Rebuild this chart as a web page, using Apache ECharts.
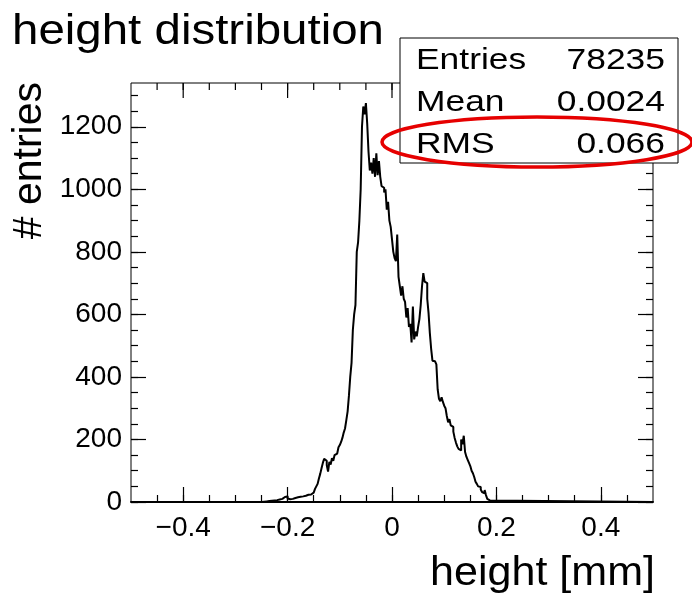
<!DOCTYPE html>
<html>
<head>
<meta charset="utf-8">
<script src="https://cdn.jsdelivr.net/npm/echarts@6/dist/echarts.min.js"></script>
<style>
html,body{margin:0;padding:0;background:#fff;}
#chart{width:692px;height:596px;}
</style>
</head>
<body>
<div id="chart"></div>
<script>
// ---- data ----
const binStart = -0.25;      // left edge of first listed bin
const binWidth = 0.0025;     // histogram bin width (mm)
const xRange = [-0.5, 0.5];
const yMax = 1340;
const counts = [
  0,1,0,2,1,3,2,4,3,5,4,6,5,8,7,10,12,16,14,18,
  11,9,12,10,14,13,16,15,19,17,21,18,22,20,24,23,26,24,28,30,
  34,42,50,58,75,90,108,125,138,132,118,97,128,120,140,132,150,155,160,175,
  182,192,205,222,235,262,290,340,400,445,
  550,600,630,800,830,900,1000,1200,1265,1240,
  1276,1210,1120,1060,1085,1050,1100,1040,1115,1045,
  1090,1040,1010,1005,990,1000,935,960,900,880,
  840,800,780,770,855,720,690,660,690,650,
  640,590,620,560,570,510,625,520,545,530,
  560,585,630,690,732,705,700,650,605,540,
  490,452,450,445,440,360,330,322,335,320,
  308,300,275,255,265,245,240,225,205,190,
  178,170,165,200,185,212,160,145,135,125,
  115,100,92,80,65,58,50,48,40,32,
  28,38,22,10,5,3
];
const xMajorTicks = [-0.4, -0.2, 0, 0.2, 0.4];
const xMinorTicks = [-0.45,-0.4,-0.35,-0.3,-0.25,-0.2,-0.15,-0.1,-0.05,0,0.05,0.1,0.15,0.2,0.25,0.3,0.35,0.4,0.45];
const yMajorTicks = [0, 200, 400, 600, 800, 1000, 1200];
const yMinorTicks = [0,50,100,150,200,250,300,350,400,450,500,550,600,650,700,750,800,850,900,950,1000,1050,1100,1150,1200,1250,1300];
const titleText = 'height distribution';
const xTitle = 'height [mm]';
const yTitle = '# entries';
const statLabels = ['Entries', 'Mean', 'RMS'];
const statValues = ['78235', '0.0024', '0.066'];

// ---- build step data from bin edges ----
const stepData = [[xRange[0], 0]];
counts.forEach((c, i) => stepData.push([+(binStart + i * binWidth).toFixed(5), c]));
stepData.push([+(binStart + counts.length * binWidth).toFixed(5), 0]);
stepData.push([xRange[1], 0]);

const FONT = 'Liberation Sans, Arial, Helvetica, sans-serif';
const fmtX = v => {
  const r = Math.round(v * 10) / 10;
  return r === 0 ? '0' : String(r).replace('-', '\u2212');
};
const fmtY = v => String(Math.round(v));

function xAx(ticks, len, labels, line) {
  return {
    type: 'value', min: xRange[0], max: xRange[1], position: 'bottom', offset: 0,
    axisLine: {show: line, onZero: false, lineStyle: {color: '#000', width: 2}},
    axisTick: {show: true, inside: true, length: len, customValues: ticks.slice(), lineStyle: {color: '#000', width: 1.2}},
    axisLabel: {show: labels, customValues: ticks.slice(), formatter: fmtX, color: '#000',
      fontFamily: FONT, fontSize: 28, margin: 12},
    splitLine: {show: false}
  };
}
function yAx(pos, ticks, len, labels) {
  return {
    type: 'value', min: 0, max: yMax, position: pos, offset: 0,
    axisLine: {show: false, onZero: false},
    axisTick: {show: true, inside: true, length: len, customValues: ticks.slice(), lineStyle: {color: '#000', width: 1.2}},
    axisLabel: {show: labels, customValues: ticks.slice(), formatter: fmtY, color: '#000',
      fontFamily: FONT, fontSize: 28, margin: 9},
    splitLine: {show: false}
  };
}
// top-frame ticks, placed through the x scale
function topTicks(values, len) {
  return {
    type: 'custom', xAxisIndex: 0, yAxisIndex: 0, silent: true, clip: false, z: 5,
    data: values.map(v => [v, yMax]),
    encode: {x: 0, y: 1},
    renderItem: (params, api) => {
      const p = api.coord([api.value(0), api.value(1)]);
      return {type: 'line', shape: {x1: p[0], y1: p[1], x2: p[0], y2: p[1] + len},
        style: {stroke: '#000', lineWidth: 1.2}};
    }
  };
}

const chart = echarts.init(document.getElementById('chart'), null, {renderer: 'canvas'});
chart.setOption({
  animation: false,
  backgroundColor: '#fff',
  grid: {left: 131, right: 39, top: 83, bottom: 94, show: true, borderColor: '#000', borderWidth: 1, backgroundColor: 'transparent'},
  xAxis: [
    xAx(xMajorTicks, 15, true, true),
    xAx(xMinorTicks, 7, false, false)
  ],
  yAxis: [
    yAx('left', yMajorTicks, 15, true),
    yAx('right', yMajorTicks, 15, false),
    yAx('left', yMinorTicks, 7, false),
    yAx('right', yMinorTicks, 7, false)
  ],
  series: [
    {type: 'line', step: 'end', data: stepData, xAxisIndex: 0, yAxisIndex: 0,
      symbol: 'none', lineStyle: {color: '#000', width: 2}, silent: true},
    topTicks(xMajorTicks, 15),
    topTicks(xMinorTicks, 7)
  ],
  graphic: [
    {type: 'text', x: 12, y: 32, scaleX: 1.13, z: 100,
      style: {text: titleText, font: '42px ' + FONT, fill: '#000', align: 'left', verticalAlign: 'middle'}},
    {type: 'rect', shape: {x: 400, y: 38, width: 278, height: 125}, z: 100,
      style: {fill: '#fff', stroke: '#000', lineWidth: 1}},
    ...statLabels.map((t, i) => ({type: 'text', x: 416, y: 61 + 42 * i, scaleX: 1.18, z: 101,
      style: {text: t, font: '30px ' + FONT, fill: '#000', align: 'left', verticalAlign: 'middle'}})),
    ...statValues.map((t, i) => ({type: 'text', x: 665, y: 61 + 42 * i, scaleX: 1.18, z: 101,
      style: {text: t, font: '30px ' + FONT, fill: '#000', align: 'right', verticalAlign: 'middle'}})),
    {type: 'ellipse', shape: {cx: 537, cy: 142, rx: 155, ry: 25}, z: 102,
      style: {fill: 'none', stroke: '#e60000', lineWidth: 3.5}},
    {type: 'text', x: 655, y: 574, scaleX: 1.05, z: 100,
      style: {text: xTitle, font: '41px ' + FONT, fill: '#000', align: 'right', verticalAlign: 'middle'}},
    {type: 'text', x: 30, y: 82, rotation: Math.PI / 2, z: 100,
      style: {text: yTitle, font: '41px ' + FONT, fill: '#000', align: 'right', verticalAlign: 'middle'}}
  ]
});
</script>
</body>
</html>
